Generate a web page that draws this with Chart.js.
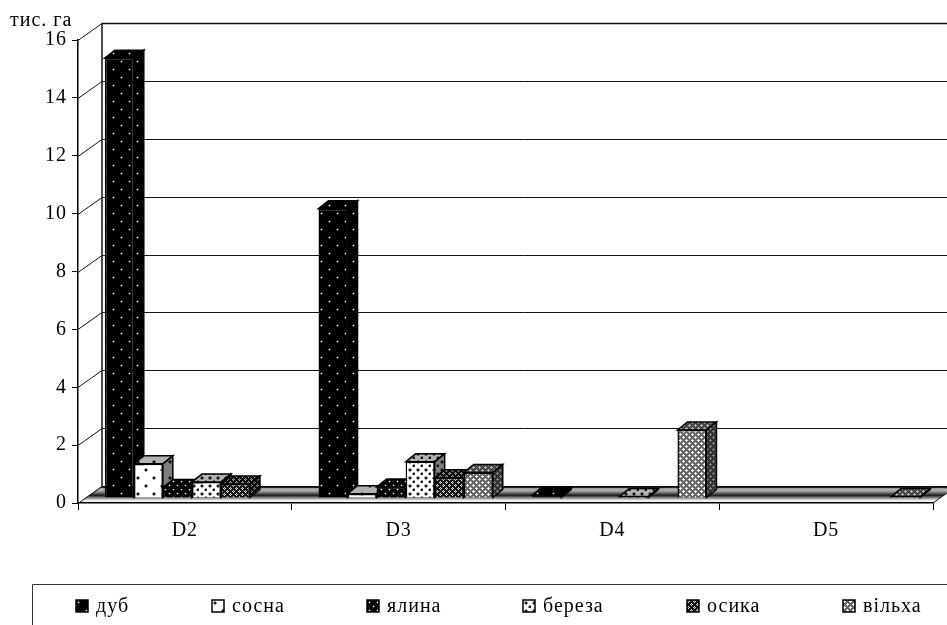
<!DOCTYPE html>
<html><head><meta charset="utf-8">
<style>html,body{margin:0;padding:0;background:#fff}canvas{display:block}</style>
<script src="https://cdn.jsdelivr.net/npm/chart.js@4"></script></head>
<body><canvas id="c" width="947" height="625"></canvas>
<script>
const categories = ['D2','D3','D4','D5'];
const seriesNames = ['дуб','сосна','ялина','береза','осика','вільха'];
const dub    = [15.2, 10.0, 0.1, null];
const sosna  = [1.18, 0.15, null, null];
const yalyna = [0.36, 0.38, null, null];
const bereza = [0.55, 1.25, 0.05, null];
const osyka  = [0.48, 0.7, null, null];
const vilkha = [null, 0.88, 2.35, 0.05];
const yTicks = [0,2,4,6,8,10,12,14,16];
const unitLabel = 'тис. га';
const FONT = '"Liberation Serif"';

function tile(w,h,draw){const t=document.createElement('canvas');t.width=w;t.height=h;const g=t.getContext('2d');draw(g);return document.createElement('canvas').getContext('2d').createPattern(t,'repeat');}
const dots=(bg,fg,halo,n,s)=>tile(n,n,g=>{g.fillStyle=bg;g.fillRect(0,0,n,n);
  [[2,2],[2+n/2,2+n/2]].forEach(([x,y])=>{
    g.fillStyle=halo;g.fillRect(x-1,y,s+2,s);g.fillRect(x,y-1,s,s+2);
    g.fillStyle=fg;g.fillRect(x,y,s,s);});});
const lattice=(bg,fg,mid)=>tile(6,6,g=>{g.fillStyle=bg;g.fillRect(0,0,6,6);g.fillStyle=fg;
  [[0,0],[3,3]].forEach(([x,y])=>{g.fillRect(x,y+1,3,1);g.fillRect(x+1,y,1,3);});
  g.fillStyle=mid;g.fillRect(1,1,1,1);g.fillRect(4,4,1,1);});
const patterns=[
  dots('#000','#fff','#444',16,1),
  dots('#fff','#222','#999',16,2),
  dots('#000','#fff','#444',8,1),
  dots('#fff','#222','#999',8,2),
  lattice('#111','#ddd','#555'),
  lattice('#666','#fff','#fff')
];
const valueSets=[dub,sosna,yalyna,bereza,osyka,vilkha];
const shade=[[0,0],[.3,.5],[0,0],[.3,.5],[.25,.4],[.3,.5]];

const view3d={
  id:'view3d',
  beforeDraw(chart){
    const ctx=chart.ctx,{x,y}=chart.scales,L=x.left,R=x.right,bx=24,by=17,Wd=chart.width;
    const y0=y.getPixelForValue(0);
    ctx.letterSpacing='1px';
    ctx.save();
    // floor
    const g=ctx.createLinearGradient(0,y0-by,0,y0);
    g.addColorStop(0,'#000');g.addColorStop(.1,'#222');g.addColorStop(.16,'#bbb');g.addColorStop(.32,'#999');
    g.addColorStop(.55,'#1c1c1c');g.addColorStop(.72,'#999');g.addColorStop(.85,'#eee');g.addColorStop(1,'#f2f2f2');
    ctx.fillStyle=g;ctx.beginPath();ctx.moveTo(L,y0);ctx.lineTo(L+bx,y0-by);ctx.lineTo(Wd,y0-by);ctx.lineTo(R+bx,y0-by);ctx.lineTo(R,y0);ctx.closePath();ctx.fill();
    // walls and grid
    ctx.strokeStyle='#111';ctx.lineWidth=1;
    y.ticks.forEach(t=>{const p=Math.round(y.getPixelForValue(t.value))+.5;
      ctx.beginPath();ctx.moveTo(L,p);ctx.lineTo(L+bx,p-by);ctx.lineTo(Wd,p-by);ctx.stroke();});
    ctx.lineWidth=1.5;ctx.beginPath();ctx.moveTo(L+bx,y.getPixelForValue(16)-by);ctx.lineTo(L+bx,y0-by);ctx.stroke();
    ctx.beginPath();ctx.moveTo(L+bx,y.getPixelForValue(16)-by+.5);ctx.lineTo(Wd,y.getPixelForValue(16)-by+.5);ctx.stroke();
    ctx.lineWidth=1;ctx.beginPath();ctx.moveTo(R,y0);ctx.lineTo(R+bx,y0-by);ctx.stroke();
    ctx.restore();
  },
  beforeDatasetsDraw(chart){
    const ctx=chart.ctx,d=10,dy=8,ox=7,oy=-5;
    const metas=chart.getSortedVisibleDatasetMetas();
    metas.forEach((meta,si)=>{
      ctx.save();ctx.translate(ox,oy);
      const pat=patterns[meta.index];
      // back faces first so the front face from the library sits on top
      meta.data.forEach((el,i)=>{
        if(valueSets[meta.index][i]==null)return;
        const {x,y,base,width}=el.getProps(['x','y','base','width'],true);
        const a=x-width/2,b=x+width/2;
        const face=(pts,k)=>{ctx.beginPath();pts.forEach((p,j)=>j?ctx.lineTo(p[0],p[1]):ctx.moveTo(p[0],p[1]));ctx.closePath();
          ctx.fillStyle=pat;ctx.fill();if(k){ctx.fillStyle='rgba(0,0,0,'+k+')';ctx.fill();}
          ctx.strokeStyle='#000';ctx.lineWidth=1.5;ctx.stroke();};
        face([[a,y],[a+d,y-dy],[b+d,y-dy],[b,y]],shade[meta.index][0]);
        face([[b,y],[b+d,y-dy],[b+d,base-dy],[b,base]],shade[meta.index][1]);
      });
      meta.controller.draw();
      ctx.restore();
    });
    return false;
  },
  afterDraw(chart){
    const ctx=chart.ctx;
    ctx.save();
    ctx.fillStyle='#000';ctx.textBaseline='alphabetic';ctx.textAlign='left';
    ctx.font='20px '+FONT;ctx.fillText(unitLabel,10,26);
    // legend frame: open towards the page edges
    ctx.strokeStyle='#333';ctx.lineWidth=1;
    ctx.beginPath();ctx.moveTo(32.5,625);ctx.lineTo(32.5,584.5);ctx.lineTo(947,584.5);ctx.stroke();
    const xs=[76,212,367,523,687,843];
    ctx.font='20px '+FONT;
    chart.data.datasets.forEach((ds,i)=>{
      const px=xs[i];
      ctx.save();ctx.translate(px,600);
      ctx.fillStyle=patterns[i];ctx.fillRect(0,0,12,12);
      ctx.strokeStyle='#000';ctx.lineWidth=1.5;ctx.strokeRect(0,0,12,12);ctx.restore();
      ctx.fillStyle='#000';ctx.fillText(ds.label,px+20,612);
    });
    ctx.restore();
  }
};

new Chart(document.getElementById('c'),{
  type:'bar',
  data:{labels:categories,datasets:valueSets.map((v,i)=>({
    label:seriesNames[i],data:v,backgroundColor:patterns[i],borderColor:'#000',borderWidth:1.5,
    barPercentage:1,categoryPercentage:.815
  }))},
  options:{
    responsive:false,animation:false,devicePixelRatio:1,
    layout:{padding:{left:0,right:14,top:40,bottom:0}},
    plugins:{legend:{display:false},title:{display:false},tooltip:{enabled:false}},
    scales:{
      x:{offset:true,
        afterFit(s){s.height=122;},
        grid:{drawOnChartArea:false,drawTicks:true,tickLength:7,tickColor:'#000',offset:true},
        border:{display:true,color:'#000',width:1.5},
        ticks:{color:'#000',font:{family:FONT,size:20},padding:9,maxRotation:0}},
      y:{min:0,max:16,
        afterFit(s){s.width=78;},
        afterBuildTicks(s){s.ticks=yTicks.map(v=>({value:v}));},
        grid:{drawOnChartArea:false,drawTicks:true,tickLength:6,tickColor:'#000'},
        border:{display:true,color:'#000',width:1.5},
        ticks:{color:'#000',font:{family:FONT,size:20},padding:5}}
    }
  },
  plugins:[view3d]
});
</script></body></html>
